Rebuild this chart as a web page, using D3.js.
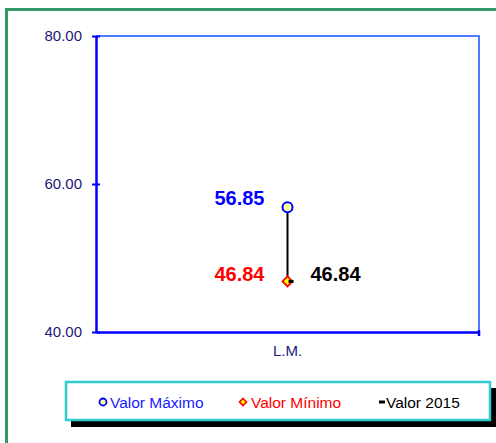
<!DOCTYPE html>
<html><head><meta charset="utf-8">
<script src="https://cdn.jsdelivr.net/npm/d3@7"></script>
<style>body{margin:0;background:#fff}svg{display:block;font-family:"Liberation Sans",Arial,sans-serif}</style>
</head><body><svg id="c" width="496" height="443"></svg>
<script>
const categories = ["L.M."];
const maxValues = [56.85];
const minValues = [46.84];
const values2015 = [46.84];
const yTicks = [40, 60, 80];
const legendLabels = ["Valor Máximo", "Valor Mínimo", "Valor 2015"];

const FF = "'Liberation Sans',Arial,sans-serif";
const svg = d3.select("#c");
// green outer frame
svg.append("rect").attr("x", 6.5).attr("y", 9.5).attr("width", 500).attr("height", 450)
  .attr("fill", "none").attr("stroke", "#339966").attr("stroke-width", 3);

const L = 96, R = 479, T = 36, B = 332;
const y = d3.scaleLinear().domain([40, 80]).range([B, T]);
const x = d3.scaleBand().domain(categories).range([L, R]);

// plot frame top/right
svg.append("path").attr("d", `M${L},${T}H${R}V${B}`).attr("fill", "none")
  .attr("stroke", "#4D7CFF").attr("stroke-width", 2);

// y axis
const ya = svg.append("g").attr("transform", `translate(${L},0)`)
  .call(d3.axisLeft(y).tickValues(yTicks).tickFormat(d3.format(".2f")).tickSizeInner(4).tickSizeOuter(0).tickPadding(12));
ya.select(".domain").attr("stroke", "#0000FF").attr("stroke-width", 2.5);
ya.selectAll(".tick line").attr("stroke", "#0000FF").attr("stroke-width", 2).attr("x2", 4).attr("x1", -4);
ya.selectAll(".tick text").attr("fill", "#1A1A7A").attr("x", -14)
  .style("font-size", "15px").style("font-family", FF);

// x axis
const xa = svg.append("g").attr("transform", `translate(0,${B})`)
  .call(d3.axisBottom(x).tickSize(0).tickPadding(13));
xa.select(".domain").attr("stroke", "#0000FF").attr("stroke-width", 2.5);
xa.selectAll(".tick text").attr("fill", "#1A1A7A")
  .style("font-size", "15px").style("font-family", FF);
svg.append("line").attr("x1", R).attr("x2", R).attr("y1", B - 2).attr("y2", B + 4)
  .attr("stroke", "#0000FF").attr("stroke-width", 2.5);

const g = svg.append("g");
categories.forEach((c, i) => {
  const cx = x(c) + x.bandwidth() / 2;
  g.append("line").attr("x1", cx).attr("x2", cx).attr("y1", y(maxValues[i])).attr("y2", y(minValues[i]))
    .attr("stroke", "#000").attr("stroke-width", 2);
  const ym = y(minValues[i]);
  g.append("path").attr("d", `M${cx},${ym - 5}L${cx + 5},${ym}L${cx},${ym + 5}L${cx - 5},${ym}Z`)
    .attr("fill", "#FFFF00").attr("stroke", "#FF0000").attr("stroke-width", 1.8);
  // 2015 dash
  const y15 = y(values2015[i]);
  g.append("line").attr("x1", cx + 1).attr("x2", cx + 6).attr("y1", y15).attr("y2", y15)
    .attr("stroke", "#000").attr("stroke-width", 3);
  // max circle
  g.append("circle").attr("cx", cx).attr("cy", y(maxValues[i])).attr("r", 5)
    .attr("fill", "#FFFF99").attr("stroke", "#0000FF").attr("stroke-width", 2);
  // labels
  g.append("text").attr("x", cx - 23).attr("y", y(maxValues[i]) - 9).attr("text-anchor", "end")
    .attr("dominant-baseline", "central").style("font-size", "20px").attr("font-weight", "bold")
    .attr("fill", "#0000FF").text(maxValues[i].toFixed(2));
  g.append("text").attr("x", cx - 23).attr("y", ym - 7).attr("text-anchor", "end")
    .attr("dominant-baseline", "central").style("font-size", "20px").attr("font-weight", "bold")
    .attr("fill", "#FF0000").text(minValues[i].toFixed(2));
  g.append("text").attr("x", cx + 23).attr("y", y15 - 7).attr("text-anchor", "start")
    .attr("dominant-baseline", "central").style("font-size", "20px").attr("font-weight", "bold")
    .attr("fill", "#000").text(values2015[i].toFixed(2));
});

// legend
const lg = svg.append("g");
lg.append("rect").attr("x", 71).attr("y", 388).attr("width", 425).attr("height", 39).attr("fill", "#000");
lg.append("rect").attr("x", 66).attr("y", 382).attr("width", 424).attr("height", 38)
  .attr("fill", "#fff").attr("stroke", "#33CCCC").attr("stroke-width", 2.5);
const ly = 402;
lg.append("circle").attr("cx", 103).attr("cy", ly).attr("r", 3.5).attr("fill", "#FFFF99")
  .attr("stroke", "#0000FF").attr("stroke-width", 1.8);
lg.append("text").attr("x", 110).attr("y", ly).attr("dominant-baseline", "central").style("font-size", "15.5px")
  .attr("fill", "#1A1AFF").text(legendLabels[0]);
lg.append("path").attr("d", `M243,${ly - 3.5}L246.5,${ly}L243,${ly + 3.5}L239.5,${ly}Z`)
  .attr("fill", "#FFFF00").attr("stroke", "#FF0000").attr("stroke-width", 1.6);
lg.append("text").attr("x", 251).attr("y", ly).attr("dominant-baseline", "central").style("font-size", "15.5px")
  .attr("fill", "#FF0000").text(legendLabels[1]);
lg.append("line").attr("x1", 379).attr("x2", 385).attr("y1", ly).attr("y2", ly).attr("stroke", "#000").attr("stroke-width", 3);
lg.append("text").attr("x", 386).attr("y", ly).attr("dominant-baseline", "central").style("font-size", "15.5px")
  .attr("fill", "#000").text(legendLabels[2]);
</script></body></html>
